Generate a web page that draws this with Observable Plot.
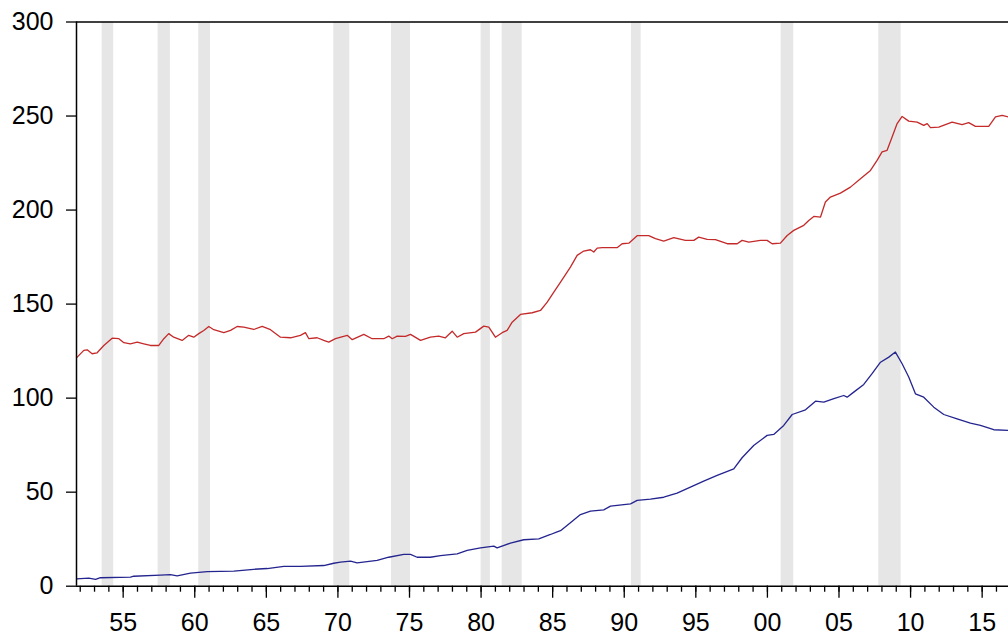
<!DOCTYPE html>
<html>
<head>
<meta charset="utf-8">
<script src="https://cdn.jsdelivr.net/npm/d3@7"></script>
<script src="https://cdn.jsdelivr.net/npm/@observablehq/plot@0.6"></script>
<style>
  html, body { margin: 0; padding: 0; background: #fff; }
  #chart { width: 1008px; height: 637px; overflow: hidden; }
</style>
</head>
<body>
<div id="chart"></div>
<script>
// Series 1 (red): time (fractional year) and value
const redTime = [1951.74,1951.79,1952.25,1952.49,1952.83,1953.18,1953.65,1954.23,1954.7,1955.05,1955.5,1955.98,1956.44,1956.9,1957.49,1957.84,1958.18,1958.53,1959.12,1959.58,1959.93,1960.28,1960.63,1960.98,1961.33,1962.03,1962.5,1962.96,1963.43,1964.12,1964.71,1965.29,1965.99,1966.69,1967.38,1967.73,1967.97,1968.55,1969.01,1969.36,1969.83,1970.65,1971.0,1971.81,1972.39,1973.2,1973.55,1973.79,1974.14,1974.72,1975.07,1975.77,1976.46,1977.04,1977.51,1977.98,1978.33,1978.79,1979.61,1980.19,1980.54,1981.0,1981.47,1981.82,1982.17,1982.75,1983.57,1984.15,1984.62,1985.08,1985.55,1986.24,1986.71,1987.17,1987.64,1987.87,1988.11,1988.46,1989.5,1989.85,1990.32,1990.9,1991.71,1992.18,1992.76,1993.46,1994.27,1994.86,1995.2,1995.79,1996.37,1997.19,1997.89,1998.23,1998.7,1999.51,1999.98,2000.33,2000.91,2001.38,2001.84,2002.54,2002.89,2003.24,2003.71,2004.05,2004.4,2005.1,2005.8,2006.5,2007.2,2007.66,2008.01,2008.36,2008.71,2009.06,2009.41,2009.87,2010.46,2010.92,2011.16,2011.39,2011.97,2012.9,2013.6,2014.06,2014.53,2015.46,2015.93,2016.4,2016.84];
const redValue = [121.5,121.8,125.4,125.7,123.6,124.1,128,131.9,131.6,129.5,128.9,129.8,128.9,128,128,131.6,134.3,132.4,130.7,133.4,132.4,134.3,136,138.1,136.4,134.8,136,138.1,137.8,136.5,138.1,136.4,132.4,132.1,133.4,134.8,131.6,132.1,130.7,129.8,131.6,133.4,131.1,133.9,131.6,131.6,133,131.6,133,132.8,133.9,130.7,132.4,133,132.1,135.6,132.4,134.3,135.1,138.3,137.8,132.4,134.8,136,140.4,144.5,145.4,146.6,151.1,156.4,161.7,169.7,175.9,178.2,178.9,177.7,179.8,180,180,182.1,182.4,186.4,186.4,184.8,183.5,185.3,183.9,183.9,185.6,184.4,184.3,182.1,182.1,183.9,183,183.9,183.9,182.1,182.4,186.5,189.2,191.9,194.5,196.6,196.3,204.3,206.9,209,212.2,216.7,221.1,226.4,230.9,231.8,238.8,246,249.8,247.3,246.8,245,246,243.8,244.1,246.8,245.4,246.5,244.5,244.5,249.5,250.4,249.5];

// Series 2 (blue)
const blueTime = [1951.74,1952.6,1953.07,1953.41,1955.51,1955.74,1957.6,1958.3,1958.77,1959.7,1960.87,1962.73,1964.12,1965.06,1966.22,1967.38,1969.01,1969.71,1970.18,1970.88,1971.34,1972.74,1973.55,1974.6,1975.07,1975.53,1976.46,1977.16,1978.33,1979.03,1979.96,1980.89,1981.12,1982.05,1982.98,1984.03,1984.85,1985.31,1985.55,1986.24,1986.94,1987.64,1988.57,1989.04,1990.44,1990.9,1991.83,1992.76,1993.69,1994.62,1995.55,1996.49,1997.65,1998.23,1999.04,1999.98,2000.44,2001.14,2001.73,2002.66,2003.36,2003.94,2004.64,2005.33,2005.57,2006.03,2006.73,2007.31,2007.9,2008.48,2008.94,2009.41,2009.87,2010.34,2010.92,2011.62,2012.32,2013.25,2014.18,2014.88,2015.81,2016.84];
const blueValue = [3.9,4.3,3.6,4.5,4.8,5.3,5.9,6.2,5.5,6.9,7.7,8,9,9.4,10.5,10.5,11,12.2,12.8,13.3,12.4,13.7,15.4,16.9,16.9,15.4,15.4,16.3,17.2,19,20.4,21.3,20.4,22.9,24.7,25.2,27.5,28.9,29.5,33.8,38.1,39.9,40.6,42.6,43.8,45.6,46.3,47.3,49.5,52.7,55.9,58.9,62.4,68.3,74.8,80.2,80.7,85.5,91.3,93.8,98.4,97.9,99.7,101.4,100.5,103.2,107.3,113,119.1,121.8,124.5,118.3,111.2,102.3,100.5,95.2,91.3,89,86.7,85.5,83.2,82.8];

// Recession shading (start, end)
const recStart = [1953.53,1957.44,1960.28,1969.71,1973.74,1980.0,1981.47,1990.5,2000.96,2007.78];
const recEnd   = [1954.34,1958.30,1961.10,1970.83,1975.07,1980.65,1982.87,1991.18,2001.84,2009.34];

// Axis ticks
const yTicks = [0, 50, 100, 150, 200, 250, 300];
const xMajorTicks = [1955, 1960, 1965, 1970, 1975, 1980, 1985, 1990, 1995, 2000, 2005, 2010, 2015];
const xMinorTicks = d3.range(1952, 2017);
const xDomain = [1951.74, 2016.84];

const red = redTime.map((t, i) => ({t, v: redValue[i]}));
const blue = blueTime.map((t, i) => ({t, v: blueValue[i]}));
const rec = recStart.map((s, i) => ({s, e: recEnd[i]}));

const FONT = "Arial, 'Liberation Sans', sans-serif";

const chart = Plot.plot({
  width: 1008,
  height: 637,
  marginLeft: 76,
  marginRight: 0,
  marginTop: 21.5,
  marginBottom: 51.3,
  style: {fontFamily: FONT, background: "#fff", color: "#000", overflow: "hidden"},
  x: {domain: xDomain, type: "linear"},
  y: {domain: [0, 300]},
  marks: [
    Plot.rect(rec, {x1: "s", x2: "e", y1: 0, y2: 300, fill: "#e6e6e6"}),
    Plot.line(red, {x: "t", y: "v", stroke: "#c42a2a", strokeWidth: 1.3, clip: true}),
    Plot.line(blue, {x: "t", y: "v", stroke: "#24248f", strokeWidth: 1.3, clip: true}),
    Plot.ruleY([300], {stroke: "#000", strokeWidth: 1.5}),
    Plot.ruleY([0], {stroke: "#000", strokeWidth: 1.5}),
    Plot.ruleX([xDomain[0]], {stroke: "#000", strokeWidth: 1.5}),
    Plot.axisY({ticks: yTicks, tickSize: 10, tickPadding: 13, fontSize: 25, tickFormat: d => String(d), strokeWidth: 1.3, label: null}),
    Plot.axisX({ticks: xMinorTicks, tickSize: 6, tickFormat: () => "", strokeWidth: 1.3, label: null}),
    Plot.axisX({ticks: xMajorTicks, tickSize: 12, tickPadding: 15, fontSize: 25, tickFormat: d => String(d % 100).padStart(2, "0"), strokeWidth: 1.3, label: null})
  ]
});
document.getElementById("chart").appendChild(chart);
</script>
</body>
</html>
